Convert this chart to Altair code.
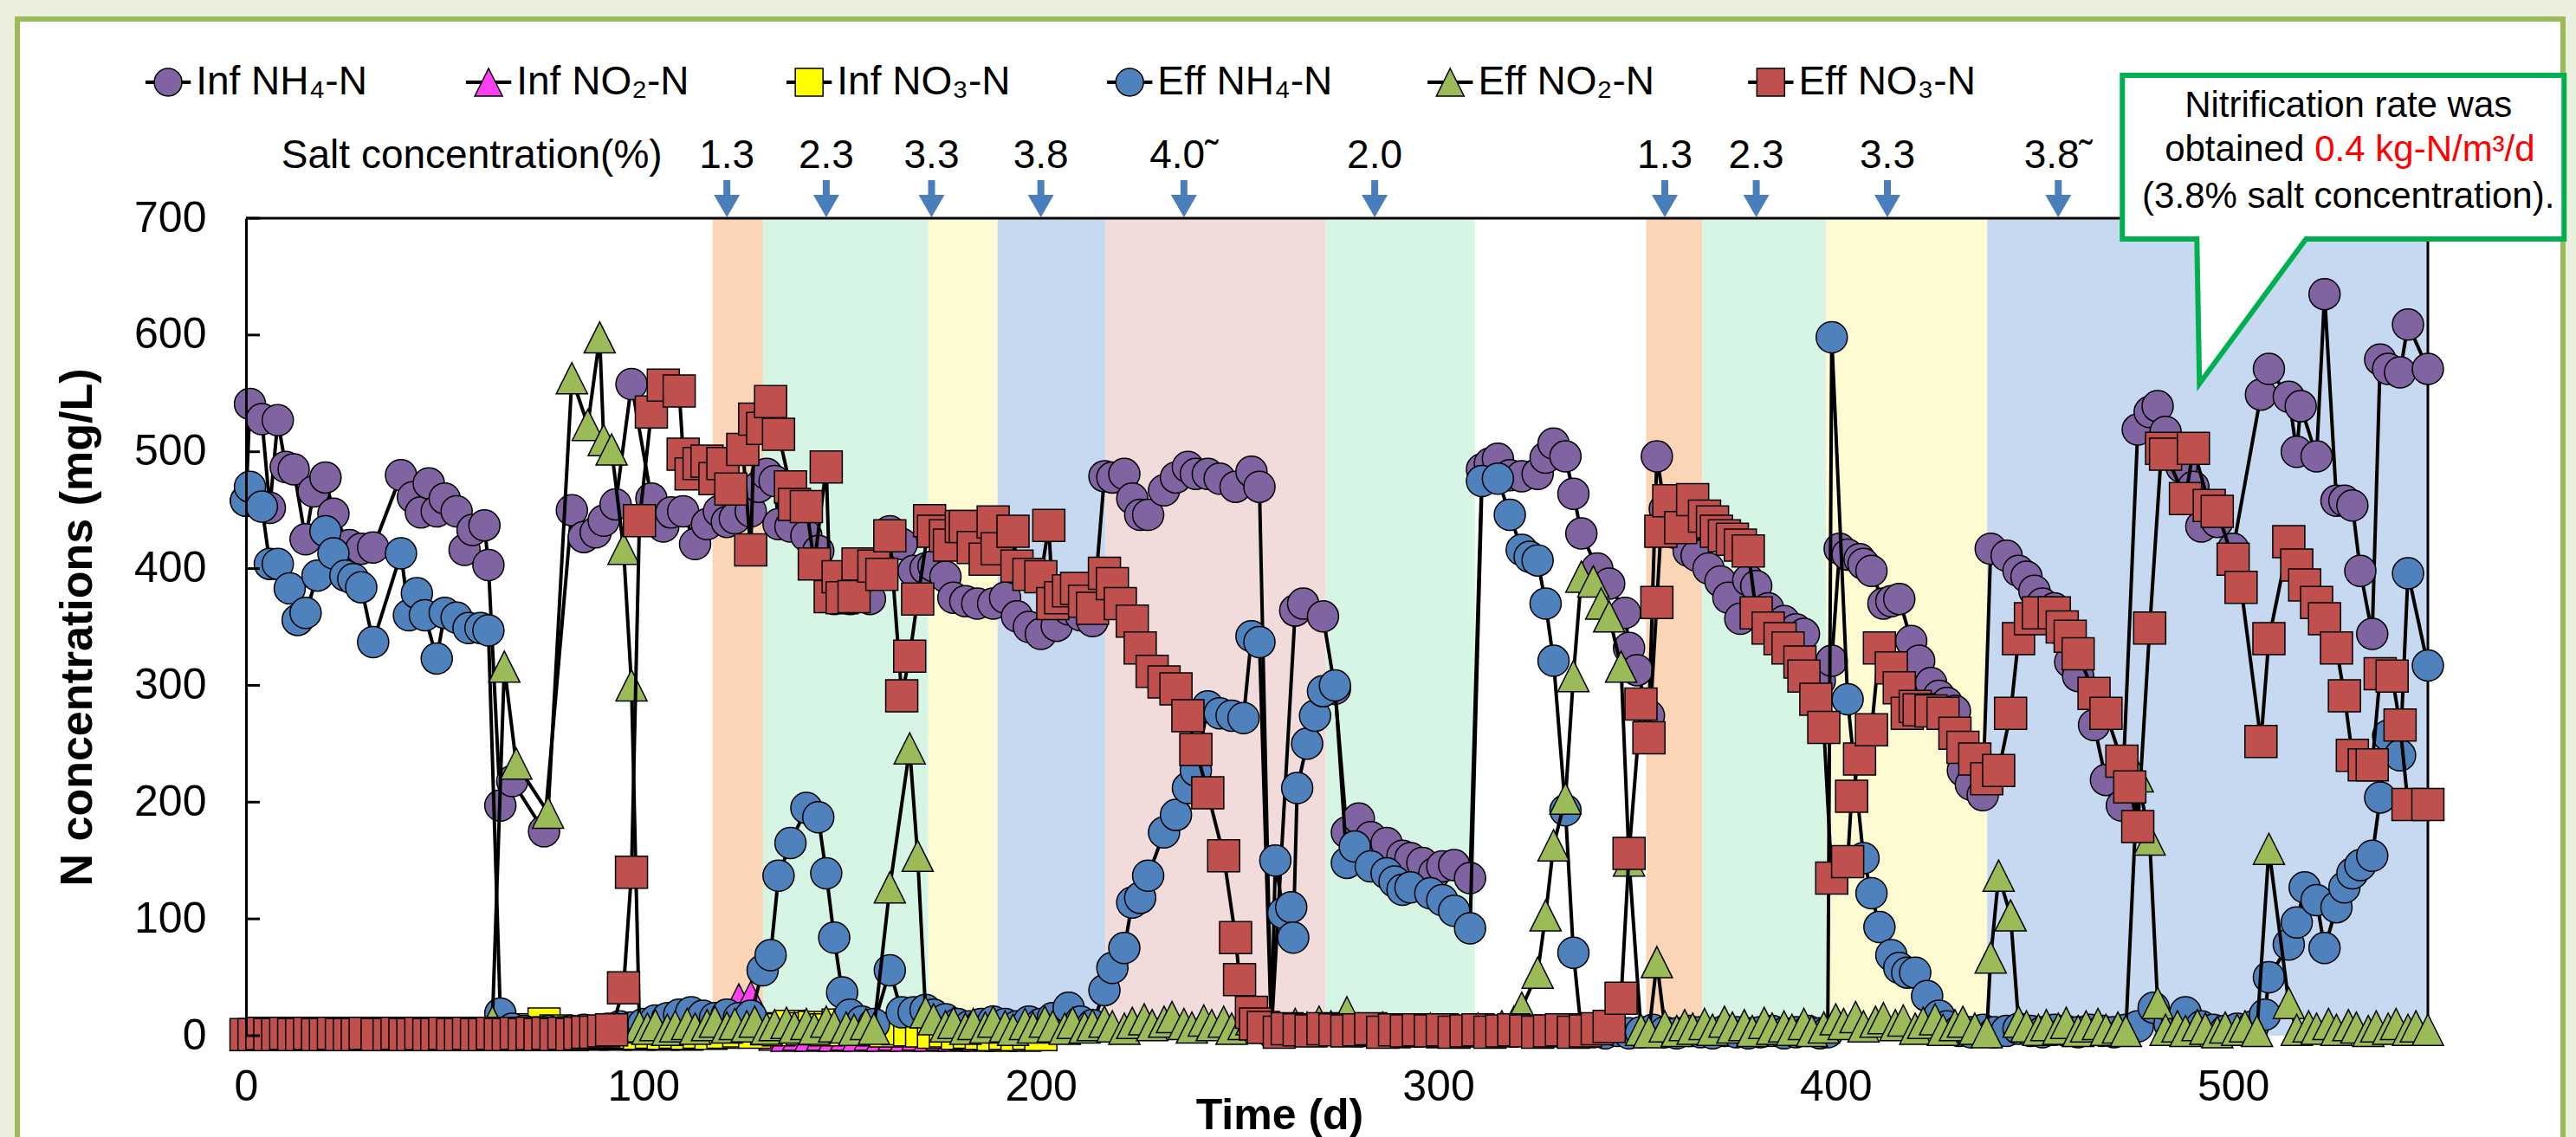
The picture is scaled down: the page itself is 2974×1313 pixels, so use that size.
import altair as alt
import pandas as pd

# ---------------- data: (day, mg/L) ----------------
INF_NH4 = [(0,458),(1,541),(4,528),(6,452),(8,527),(10,487),(12,485),(15,425),(17,466),(20,478),(22,447),(26,420),(29,417),(32,418),(39,480),(42,461),(44,448),(46,473),(48,449),(50,460),(53,449),(55,416),(57,433),(60,437),(61,403),(64,197),(67,218),(75,175),(82,450),(85,427),(88,431),(90,441),(93,455),(97,558),(102,460),(105,436),(107,448),(110,449),(113,421),(116,438),(119,449),(121,440),(123,443),(127,449),(129,470),(131,481),(133,475),(134,438),(137,436),(141,428),(144,415),(148,374),(150,380),(152,374),(157,374),(162,432),(165,421),(168,398),(171,400),(173,402),(176,393),(178,375),(181,372),(184,370),(188,370),(191,375),(194,359),(197,350),(200,344),(204,351),(207,365),(210,360),(213,355),(216,479),(218,478),(221,481),(223,460),(225,446),(227,446),(231,467),(234,478),(237,487),(239,481),(242,481),(245,477),(249,470),(253,483),(255,470),(258,3),(264,364),(266,370),(271,359),(274,297),(277,174),(280,186),(283,170),(287,165),(291,154),(293,152),(296,148),(299,139),(301,145),(304,146),(308,135),(311,485),(313,490),(315,494),(318,480),(321,479),(325,481),(327,495),(329,507),(332,496),(334,464),(336,430),(340,400),(343,387),(347,362),(348,332),(350,313),(353,274),(355,496),(357,451),(360,430),(363,415),(365,411),(368,400),(371,389),(373,375),(376,357),(378,390),(380,385),(383,366),(387,355),(390,348),(392,344),(396,304),(399,321),(401,417),(403,412),(406,408),(407,404),(409,398),(412,370),(414,372),(416,374),(419,338),(421,321),(424,302),(426,291),(428,285),(430,278),(432,227),(434,215),(437,206),(439,417),(443,411),(446,398),(448,393),(450,381),(452,370),(455,366),(457,347),(459,320),(461,308),(465,266),(468,219),(472,197),(476,519),(479,534),(481,539),(483,517),(487,487),(490,470),(492,436),(496,440),(500,417),(507,549),(509,571),(514,547),(516,500),(517,539),(521,496),(523,635),(526,458),(528,458),(530,454),(532,398),(535,344),(537,579),(539,571),(542,568),(544,609),(549,571)]

INF_NO2 = [(62,1),(65,2),(68,1),(71,3),(75,8),(78,2),(81,1),(84,2),(87,1),(90,2),(93,1),(96,2),(99,1),(102,2),(105,1),(108,2),(111,1),(114,2),(117,3),(120,5),(124,31),(127,33),(130,4),(133,1),(136,0),(139,1),(142,0),(145,1),(148,0),(151,1),(154,0),(157,1),(160,0),(163,1),(166,0),(169,1),(172,0),(175,1),(178,0),(181,1),(184,0),(187,1),(190,0),(193,1),(196,0),(200,1)]

INF_NO3 = [(62,2),(65,3),(68,4),(71,5),(75,10),(78,4),(81,2),(84,3),(87,2),(90,3),(93,2),(96,3),(99,2),(102,3),(105,2),(108,3),(111,2),(114,3),(117,2),(120,3),(124,4),(128,3),(131,6),(134,5),(137,8),(140,6),(143,7),(146,5),(149,9),(152,8),(155,6),(158,5),(161,4),(164,6),(167,5),(170,4),(173,3),(176,4),(179,2),(182,3),(185,2),(188,1),(191,2),(194,1),(197,2),(200,1)]

EFF_NH4 = [(0,458),(1,470),(4,453),(6,404),(8,404),(11,383),(13,356),(15,362),(18,394),(20,432),(22,413),(25,394),(27,391),(29,384),(32,337),(39,413),(41,360),(43,379),(45,360),(48,323),(50,362),(53,358),(56,349),(59,349),(61,347),(64,19),(67,6),(70,4),(73,3),(76,4),(79,3),(82,4),(85,5),(88,4),(91,6),(94,8),(97,7),(100,10),(103,13),(106,15),(109,18),(112,20),(115,17),(118,15),(121,18),(124,15),(127,17),(130,56),(132,69),(134,137),(137,165),(141,195),(144,187),(146,139),(148,84),(150,37),(152,18),(155,12),(158,10),(162,56),(165,20),(168,20),(171,22),(173,18),(176,14),(179,10),(182,8),(185,10),(188,12),(191,10),(194,8),(197,12),(200,10),(203,15),(207,24),(210,12),(213,9),(216,39),(218,58),(221,75),(223,114),(225,118),(227,137),(231,174),(234,189),(237,212),(239,227),(242,282),(245,276),(248,274),(251,272),(253,342),(255,337),(258,5),(259,150),(261,105),(263,110),(263.5,84),(264.5,212),(267,250),(269,274),(271,295),(274,300),(277,148),(279,162),(283,145),(287,139),(289,132),(291,125),(293,127),(298,122),(301,116),(304,107),(308,92),(311,475),(315,477),(318,446),(321,416),(323,410),(325,407),(327,370),(329,321),(332,193),(334,71),(336,4),(339,3),(342,2),(345,4),(348,2),(351,3),(354,5),(357,3),(360,2),(363,4),(366,3),(369,2),(372,4),(375,3),(378,2),(381,3),(384,4),(387,2),(390,3),(393,4),(396,2),(398,3),(399,598),(403,288),(407,152),(409,122),(411,93),(414,69),(416,58),(418,54),(420,54),(423,34),(426,17),(428,8),(431,4),(434,3),(437,5),(440,3),(443,4),(446,6),(449,4),(452,3),(455,5),(458,4),(461,3),(464,5),(467,4),(470,3),(473,5),(476,8),(480,24),(484,10),(488,20),(492,8),(495,5),(498,4),(501,6),(505,8),(508,18),(509,50),(514,78),(516,97),(518,127),(521,116),(523,75),(526,110),(528,127),(530,139),(532,146),(535,154),(537,204),(539,257),(542,240),(544,396),(549,317)]

EFF_NO2 = [(0,1),(3,1),(6,2),(9,1),(12,1),(15,2),(18,1),(21,1),(24,2),(27,1),(30,1),(33,2),(36,1),(39,1),(42,2),(45,1),(48,1),(51,2),(54,1),(57,1),(60,2),(62,12),(65,316),(68,233),(76,191),(82,563),(86,523),(89,598),(90,510),(92,502),(95,417),(97,300),(99,8),(101,6),(103,9),(106,5),(108,8),(111,10),(113,6),(116,9),(118,12),(121,7),(123,10),(126,8),(128,12),(131,6),(133,9),(136,11),(138,7),(141,10),(143,6),(146,12),(148,8),(151,7),(153,5),(156,10),(158,6),(162,127),(167,246),(169,154),(171,20),(173,14),(176,8),(178,11),(181,6),(183,10),(186,7),(188,12),(191,8),(193,5),(196,10),(198,7),(201,12),(203,8),(206,6),(208,11),(211,7),(213,9),(216,12),(218,8),(221,6),(223,11),(226,14),(228,9),(231,12),(233,16),(236,10),(238,7),(241,13),(243,9),(246,12),(248,6),(251,10),(253,14),(256,8),(258,11),(261,6),(264,10),(267,7),(270,12),(273,8),(277,20),(280,6),(283,4),(286,7),(289,3),(292,5),(295,4),(298,6),(301,3),(304,5),(307,4),(310,6),(313,3),(316,8),(319,12),(321,24),(325,54),(327,103),(329,163),(332,203),(334,308),(336,393),(339,389),(341,370),(343,359),(346,316),(348,150),(351,5),(353,3),(355,63),(357,8),(360,4),(362,9),(364,6),(367,10),(369,5),(372,12),(374,7),(377,9),(379,4),(382,11),(384,6),(387,8),(389,5),(392,10),(394,4),(397,7),(400,14),(402,10),(405,16),(407,8),(410,12),(412,15),(415,9),(417,13),(420,6),(422,11),(425,14),(427,5),(430,9),(432,12),(435,6),(438,3),(439,67),(441,137),(444,103),(446,12),(448,8),(451,5),(453,9),(456,6),(458,11),(461,4),(463,8),(466,10),(468,5),(471,7),(473,4),(476,222),(479,168),(481,28),(483,5),(486,8),(488,4),(491,9),(493,6),(496,3),(498,7),(501,5),(503,8),(506,4),(509,160),(514,28),(516,5),(519,8),(521,6),(524,10),(526,5),(529,9),(531,7),(534,4),(536,8),(539,6),(541,10),(544,5),(546,8),(549,5)]

EFF_NO3 = [(0,1),(2,1),(4,2),(6,1),(8,1),(10,2),(12,1),(14,1),(16,2),(18,1),(20,1),(22,2),(24,1),(26,1),(28,1),(30,2),(33,1),(36,1),(38,2),(40,1),(42,1),(44,2),(46,1),(48,1),(50,2),(52,1),(54,1),(56,2),(58,1),(60,1),(62,2),(64,1),(66,1),(68,2),(70,1),(72,2),(74,1),(76,2),(78,1),(80,2),(82,1),(84,2),(86,3),(88,3),(90,4),(92,5),(95,41),(97,140),(99,441),(102,534),(105,557),(109,552),(110,498),(112,481),(114,490),(116,492),(118,477),(120,490),(122,468),(125,502),(127,416),(128,528),(130,520),(132,543),(134,515),(137,470),(138,455),(141,453),(143,404),(146,487),(147,376),(149,393),(150,375),(153,376),(154,404),(158,402),(160,395),(162,428),(165,291),(167,325),(169,374),(172,441),(173,432),(176,428),(177,420),(180,436),(181,436),(183,418),(186,408),(188,440),(189,417),(193,432),(194,402),(197,395),(200,393),(202,437),(203,370),(205,375),(207,381),(209,383),(211,372),(213,366),(216,396),(218,387),(220,370),(223,355),(225,332),(228,312),(231,303),(234,297),(237,274),(239,245),(242,208),(246,154),(249,84),(250,48),(253,20),(254,10),(256,7),(260,3),(262,6),(265,5),(268,4),(271,6),(274,5),(277,4),(280,5),(283,6),(286,3),(289,5),(292,4),(295,5),(298,4),(301,5),(304,3),(307,4),(310,5),(313,3),(316,4),(319,5),(322,4),(325,3),(328,4),(331,5),(334,3),(337,4),(340,6),(343,8),(346,32),(348,156),(351,284),(353,255),(355,371),(356,432),(358,458),(361,435),(364,459),(367,445),(369,440),(370,432),(372,428),(374,425),(376,420),(378,415),(380,362),(383,349),(386,340),(388,332),(391,320),(392,308),(395,288),(397,264),(399,135),(403,149),(404,205),(406,237),(409,262),(411,332),(414,315),(416,298),(418,276),(420,282),(421,279),(424,278),(427,276),(430,259),(432,247),(435,237),(438,220),(441,227),(444,276),(446,340),(449,357),(451,362),(455,362),(457,350),(459,342),(461,327),(465,293),(468,276),(472,235),(474,213),(476,179),(479,349),(482,503),(483,498),(488,460),(490,503),(494,454),(496,449),(500,408),(502,384),(507,252),(509,340),(514,423),(516,403),(518,386),(521,371),(523,357),(526,332),(528,291),(530,240),(533,232),(535,232),(537,310),(540,308),(542,266),(544,198),(549,198)]

SERIES_NAMES = ["Inf NH\u2084-N", "Inf NO\u2082-N", "Inf NO\u2083-N", "Eff NH\u2084-N", "Eff NO\u2082-N", "Eff NO\u2083-N"]
SERIES_DATA = [INF_NH4, INF_NO2, INF_NO3, EFF_NH4, EFF_NO2, EFF_NO3]

# salt-concentration change markers
SALT_DAYS = [121, 146, 172.5, 200, 236, 284, 357, 380, 413, 456]
SALT_LABELS = ["1.3", "2.3", "3.3", "3.8", "4.0\u02dc", "2.0", "1.3", "2.3", "3.3", "3.8\u02dc"]

# shaded salt periods
BAND_START = [117.4, 130.1, 171.7, 189.1, 216.3, 271.7, 352.3, 366.4, 397.6, 438.1]
BAND_END = [130.1, 171.7, 189.1, 216.3, 271.7, 309.2, 366.4, 397.6, 438.1, 549]
BAND_SALT = ["1.3", "2.3", "3.3", "3.8", "4.0", "2.0", "1.3", "2.3", "3.3", "3.8"]

Y_TICKS = [0, 100, 200, 300, 400, 500, 600, 700]
X_TICKS = [0, 100, 200, 300, 400, 500]

# ---------------- styling ----------------
FONT = "Liberation Sans, Arial, Helvetica, sans-serif"
W, H = 2519, 944
X_MAX, Y_MAX = 549, 700
COLORS = ["#8064A2", "#FF40F0", "#FFFF00", "#4F81BD", "#9BBB59", "#C0504D"]
TRI = "M0,-1L1,1L-1,1Z"
SHAPES = ["circle", TRI, "square", "circle", TRI, "square"]
SIZES = [1296, 1296, 1369, 1296, 1296, 1369]
BAND_COLORS = {"1.3": "#FBD5B5", "2.3": "#D7F5E4", "2.0": "#D7F5E4",
               "3.3": "#FEFBD3", "3.8": "#C6D9F1", "4.0": "#F2DCDB"}
PAGE_BG = "#EBF0DE"

XS = alt.Scale(domain=[0, X_MAX], nice=False, zero=False)
YS = alt.Scale(domain=[0, Y_MAX], nice=False, zero=False)

X_AXIS = alt.Axis(values=X_TICKS, labelFontSize=50, labelFont=FONT, labelColor="black",
                  domain=False, ticks=False, grid=False, labelPadding=34, labelFlush=False,
                  title="Time (d)", titleFontSize=50, titleFont=FONT, titleFontWeight="bold",
                  titleColor="black", titleX=1193, titleY=92, titleBaseline="middle",
                  titleAlign="center", zindex=1)
Y_AXIS = alt.Axis(values=Y_TICKS, labelFontSize=50, labelFont=FONT, labelColor="black",
                  domain=True, domainColor="black", domainWidth=3, ticks=False, grid=False,
                  labelPadding=46, labelFlush=False,
                  title="N concentrations (mg/L)", titleFontSize=52, titleFont=FONT,
                  titleFontWeight="bold", titleColor="black", titleX=-195, titleY=472,
                  titleAngle=270, titleBaseline="middle", titleAlign="center", zindex=1)


def xq(field):
    return alt.X(field, type="quantitative", scale=XS, axis=X_AXIS)


def yq(field):
    return alt.Y(field, type="quantitative", scale=YS, axis=Y_AXIS)


def xd(v):
    return alt.XDatum(v, type="quantitative", scale=XS, axis=X_AXIS)


def yd(v):
    return alt.YDatum(v, type="quantitative", scale=YS, axis=Y_AXIS)


one = alt.Data(values=[{}])

layers = []

# page margins (light green strips) and the green frame line -- decoration only
for x0, x1, y0, y1 in [(-284, -264, -252, 1061), (-284, 2690, -252, -230), (2675, 2690, -252, 1061)]:
    layers.append(alt.Chart(one).mark_rect(fill=PAGE_BG, strokeWidth=0).encode(
        x=alt.value(x0), x2=alt.value(x1), y=alt.value(y0), y2=alt.value(y1)))
layers.append(alt.Chart(one).mark_rect(fill="white", fillOpacity=0, stroke="#9BBB59",
                                       strokeWidth=6).encode(
    x=alt.value(-264), x2=alt.value(2675), y=alt.value(-230), y2=alt.value(1100)))

# salt bands
bands = pd.DataFrame({"start": BAND_START, "end": BAND_END, "salt": BAND_SALT})
bands["color"] = bands["salt"].map(BAND_COLORS)
bands["top"] = Y_MAX
bands["bottom"] = 0
layers.append(alt.Chart(bands).mark_rect().encode(
    x=xq("start"), x2="end:Q", y=yq("top"), y2="bottom:Q",
    fill=alt.Fill("color:N", scale=None)))

# top and right frame of the plot area
layers.append(alt.Chart(one).mark_rule(color="black", strokeWidth=3, clip=False).encode(
    x=xd(0), x2=alt.X2Datum(X_MAX), y=yd(Y_MAX)))
layers.append(alt.Chart(one).mark_rule(color="black", strokeWidth=3, clip=False).encode(
    x=xd(X_MAX), y=yd(0), y2=alt.Y2Datum(Y_MAX)))

# series
for data, color, shape, size in zip(SERIES_DATA, COLORS, SHAPES, SIZES):
    df = pd.DataFrame(data, columns=["day", "val"])
    df["idx"] = range(len(df))
    base = alt.Chart(df)
    layers.append(base.mark_line(color="black", strokeWidth=4).encode(
        x=xq("day"), y=yq("val"), order="idx:Q"))
    layers.append(base.mark_point(shape=shape, size=size, filled=True, fill=color,
                                  stroke="black", strokeWidth=1.5, opacity=1).encode(
        x=xq("day"), y=yq("val")))

# inward y ticks
ticks = pd.DataFrame({"v": Y_TICKS})
layers.append(alt.Chart(ticks).mark_rule(color="black", strokeWidth=3).encode(
    y=yq("v"), x=alt.value(0), x2=alt.value(16)))

# legend (drawn)
LEG_X0, LEG_DX, LEG_Y = -19.6, 80.65, 816.4
leg = pd.DataFrame({"name": SERIES_NAMES})
leg["x"] = [LEG_X0 + i * LEG_DX for i in range(len(SERIES_NAMES))]
leg["x0"] = leg["x"] - 5.7
leg["x1"] = leg["x"] + 5.7
leg["tx"] = leg["x"] + 7.0
leg["y"] = LEG_Y
layers.append(alt.Chart(leg).mark_rule(color="black", strokeWidth=4, clip=False).encode(
    x=xq("x0"), x2="x1:Q", y=yq("y")))
layers.append(alt.Chart(leg).mark_point(filled=True, stroke="black", strokeWidth=1.5,
                                        size=1024, opacity=1, clip=False).encode(
    x=xq("x"), y=yq("y"),
    fill=alt.Fill("name:N", scale=alt.Scale(domain=SERIES_NAMES, range=COLORS), legend=None),
    shape=alt.Shape("name:N", scale=alt.Scale(domain=SERIES_NAMES, range=SHAPES), legend=None)))
layers.append(alt.Chart(leg).mark_text(align="left", baseline="middle", fontSize=46, font=FONT,
                                       color="black", clip=False).encode(
    x=xq("tx"), y=yq("y"), text="name:N"))

# salt concentration row with arrows
SALT_Y = 753.4
salt = pd.DataFrame({"day": SALT_DAYS, "label": SALT_LABELS})
salt["y"] = SALT_Y
salt["s0"] = 732.6
salt["s1"] = 719.0
salt["head"] = 710.4
layers.append(alt.Chart(one).mark_text(align="left", baseline="middle", fontSize=46, font=FONT,
                                       color="black", clip=False).encode(
    x=xd(8.9), y=yd(SALT_Y), text=alt.value("Salt concentration(%)")))
layers.append(alt.Chart(salt).mark_text(align="center", baseline="middle", fontSize=46, font=FONT,
                                        color="black", clip=False).encode(
    x=xq("day"), y=yq("y"), text="label:N"))
layers.append(alt.Chart(salt).mark_rule(color="#4A7EBB", strokeWidth=8, clip=False).encode(
    x=xq("day"), y=yq("s0"), y2="s1:Q"))
layers.append(alt.Chart(salt).mark_point(shape="triangle-down", size=900, filled=True,
                                         fill="#4A7EBB", strokeWidth=0, opacity=1, clip=False).encode(
    x=xq("day"), y=yq("head")))

# callout
CALLOUT = ("M-1,-0.3706L1,-0.3706L1,0.3706L-0.1686,0.3706L-0.651,1.0255"
           "L-0.6627,0.3706L-1,0.3706Z")
layers.append(alt.Chart(one).mark_point(shape=CALLOUT, size=260100, filled=True, fill="white",
                                        stroke="#00B050", strokeWidth=6, opacity=1, clip=False).encode(
    x=xd(527.7), y=yd(752.3)))
callout_text = [
    ("Nitrification rate was", 529.0, 796.4, "center", "black"),
    ("obtained", 517.9, 758.6, "right", "black"),
    ("0.4 kg-N/m\u00b3/d", 520.5, 758.6, "left", "#FF0000"),
    ("(3.8% salt concentration).", 529.0, 718.5, "center", "black"),
]
for txt, cx, cy, al, col in callout_text:
    layers.append(alt.Chart(one).mark_text(align=al, baseline="middle", fontSize=42, font=FONT,
                                           color=col, clip=False).encode(
        x=xd(cx), y=yd(cy), text=alt.value(txt)))

chart = alt.layer(*layers).properties(
    width=W, height=H,
    padding={"left": 284, "top": 252, "right": 171, "bottom": 117},
    autosize=alt.AutoSizeParams(type="none"),
    background="white",
).configure_view(stroke="transparent")

chart.save("out.html", embed_options={"renderer": "svg", "actions": False})
